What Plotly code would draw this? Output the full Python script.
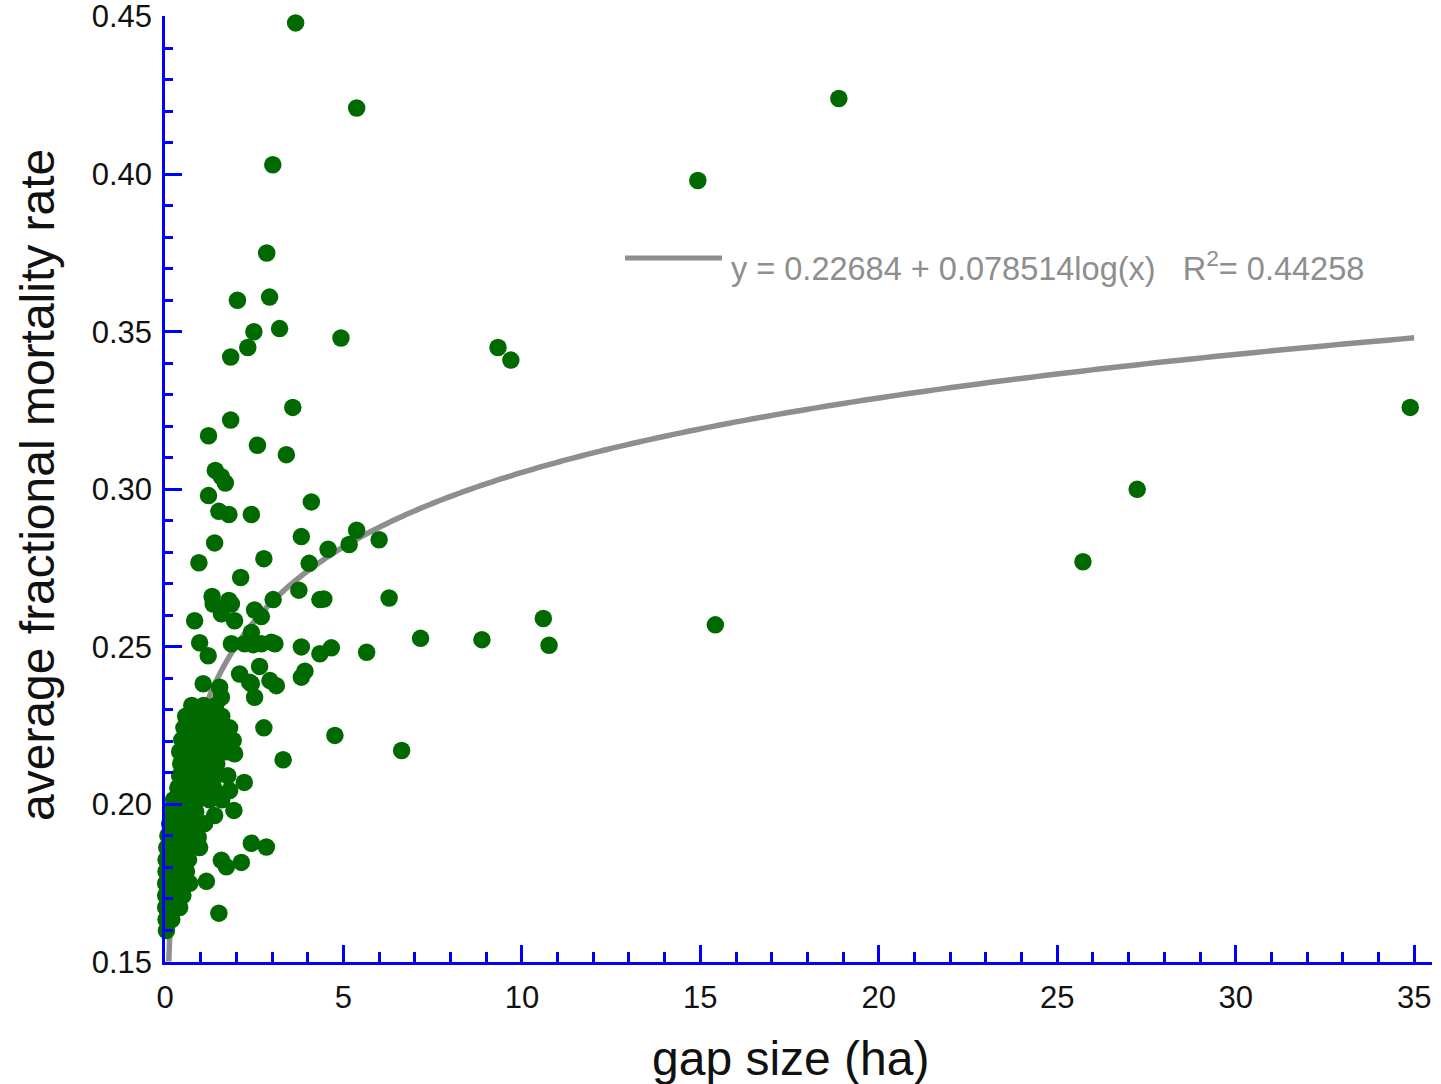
import numpy as np
import plotly.graph_objects as go

# ---------------- data ----------------
# scattered (individually readable) points: gap size (ha), mortality rate
gap_scatter = [3.66, 5.37, 18.88, 3.02, 14.93, 2.85, 2.93, 2.03, 3.21, 2.49, 4.93, 2.32, 1.84,
               9.33, 9.69, 34.89, 3.58, 1.84, 1.22, 2.59, 3.40, 1.41, 1.58, 1.69, 1.22, 27.24,
               4.10, 1.51, 1.79, 2.42, 1.39, 3.82, 5.37, 5.16, 6.00, 4.57, 2.77, 4.04, 0.95,
               2.12, 25.72, 3.75, 3.03, 6.28, 4.34, 4.45, 1.32, 1.79, 1.35, 1.86, 2.51, 2.70,
               0.83, 1.58, 1.95, 10.60, 15.42, 7.16, 8.88, 10.76, 2.42, 0.97, 1.86, 2.23, 2.47,
               2.70, 2.98, 3.08, 3.82, 1.21, 4.34, 4.66, 5.65, 2.65, 3.92, 3.82, 2.09, 2.37,
               2.94, 3.12, 2.42, 2.51, 1.07, 1.53, 1.58, 2.77, 4.76, 6.63, 3.31, 1.91, 1.95,
               2.22, 1.93, 1.39, 2.42, 2.84, 1.58, 1.72, 2.14, 1.16, 0.69, 0.93, 1.51, 0.04,
               1.81, 1.86, 1.81, 1.53]
rate_scatter = [0.448, 0.421, 0.424, 0.403, 0.398, 0.375, 0.361, 0.360, 0.351, 0.350, 0.348, 0.345, 0.342,
                0.345, 0.341, 0.326, 0.326, 0.322, 0.317, 0.314, 0.311, 0.306, 0.304, 0.302, 0.298, 0.300,
                0.296, 0.293, 0.292, 0.292, 0.283, 0.285, 0.287, 0.2825, 0.284, 0.281, 0.278, 0.2765, 0.2767,
                0.272, 0.277, 0.268, 0.265, 0.2655, 0.265, 0.2652, 0.266, 0.2647, 0.2636, 0.2636, 0.2617, 0.2596,
                0.2583, 0.2605, 0.2583, 0.259, 0.257, 0.2527, 0.2523, 0.2505, 0.2546, 0.2513, 0.251, 0.251, 0.2507,
                0.251, 0.2515, 0.251, 0.250, 0.2472, 0.2478, 0.2497, 0.2483, 0.2438, 0.2423, 0.2404, 0.2414, 0.2388,
                0.2393, 0.2377, 0.2383, 0.234, 0.2383, 0.2372, 0.234, 0.2243, 0.2219, 0.2171, 0.2142, 0.2203, 0.2161,
                0.207, 0.1981, 0.1965, 0.1877, 0.1865, 0.1823, 0.1802, 0.1816, 0.1756, 0.175, 0.1896, 0.1655, 0.160,
                0.2203, 0.2166, 0.2044, 0.2023]

# dense cluster of small gaps
gap_cluster = [0.75, 1.08, 1.42,
               0.58, 0.92, 1.25, 1.59,
               0.53, 0.86, 1.20, 1.53, 1.81,
               0.47, 0.80, 1.14, 1.48,
               0.41, 0.75, 1.08, 1.42, 1.70,
               0.44, 0.78, 1.11, 1.45,
               0.41, 0.75, 1.08, 1.42, 1.76,
               0.36, 0.69, 1.03, 1.36,
               0.24, 0.58, 0.92, 1.25, 1.59,
               0.19, 0.52, 0.86,
               0.13, 0.47, 0.80, 1.11,
               0.08, 0.41, 0.75,
               0.05, 0.36, 0.69, 0.97,
               0.03, 0.33, 0.66,
               0.03, 0.30, 0.60,
               0.02, 0.27, 0.58,
               0.02, 0.24, 0.50,
               0.02, 0.22, 0.41,
               0.03, 0.19]
rate_cluster = [0.2314, 0.2314, 0.2314,
                0.228, 0.228, 0.228, 0.228,
                0.2243, 0.2243, 0.2243, 0.2243, 0.2243,
                0.2205, 0.2205, 0.2205, 0.2205,
                0.2167, 0.2167, 0.2167, 0.2167, 0.2167,
                0.2129, 0.2129, 0.2129, 0.2129,
                0.2091, 0.2091, 0.2091, 0.2091, 0.2091,
                0.2053, 0.2053, 0.2053, 0.2053,
                0.2015, 0.2015, 0.2015, 0.2015, 0.2015,
                0.1977, 0.1977, 0.1977,
                0.1939, 0.1939, 0.1939, 0.1939,
                0.1901, 0.1901, 0.1901,
                0.1863, 0.1863, 0.1863, 0.1863,
                0.1825, 0.1825, 0.1825,
                0.1787, 0.1787, 0.1787,
                0.1749, 0.1749, 0.1749,
                0.1711, 0.1711, 0.1711,
                0.1673, 0.1673, 0.1673,
                0.1635, 0.1635]

# fitted curve as printed on the chart: y = a + b*log10(x)
fit_a = 0.22684
fit_b = 0.078514
fit_r2 = 0.44258
fit_x_min, fit_x_max = 0.1055, 35.0

x_ticks = [0, 5, 10, 15, 20, 25, 30, 35]
y_ticks = [0.15, 0.20, 0.25, 0.30, 0.35, 0.40, 0.45]

# ---------------- figure ----------------
W, H = 1441, 1084
ML, MR, MT, MB = 165, 9, 16, 122
PW, PH = W - ML - MR, H - MT - MB

def px(xp):  # pixel -> paper x
    return (xp - ML) / PW

def py(yp):  # pixel -> paper y
    return (H - MB - yp) / PH

gap = gap_scatter + gap_cluster
rate = rate_scatter + rate_cluster

fit_x = np.geomspace(fit_x_min, fit_x_max, 600)
fit_y = fit_a + fit_b * np.log10(fit_x)

GREEN = "#006a00"
GRAY = "#8e8e8e"
BLUE = "#0000ff"
FONT = "Liberation Sans, Arial, sans-serif"

fig = go.Figure()
fig.add_trace(go.Scatter(x=fit_x, y=fit_y, mode="lines",
                         line=dict(color=GRAY, width=5.5, simplify=False), hoverinfo="skip",
                         showlegend=False, cliponaxis=True))
fig.add_trace(go.Scatter(x=gap, y=rate, mode="markers",
                         marker=dict(color=GREEN, size=17.5, line=dict(width=0)),
                         showlegend=False, cliponaxis=False))

axis_common = dict(showgrid=False, zeroline=False, showline=True, linecolor=BLUE,
                   linewidth=2.5, ticks="inside", tickcolor=BLUE, tickwidth=2.5, ticklen=17,
                   tickfont=dict(family=FONT, size=31, color="#111111"), mirror=False,
                   ticklabeloverflow="allow", automargin=False)

fig.update_xaxes(range=[0, 35.5], tickvals=x_ticks, ticktext=[str(v) for v in x_ticks],
                 minor=dict(ticks="inside", dtick=1, tick0=0, ticklen=10, tickcolor=BLUE, tickwidth=2.5),
                 ticklabelstandoff=6, **axis_common)
fig.update_yaxes(range=[0.1500, 0.4502], tickvals=y_ticks, ticktext=[f"{v:.2f}" for v in y_ticks],
                 minor=dict(ticks="inside", dtick=0.01, tick0=0.15, ticklen=8, tickcolor=BLUE, tickwidth=2.5),
                 ticklabelstandoff=4, **axis_common)

eq_text = ("y = %.5f + %.6flog(x)\u00a0\u00a0\u00a0R<sup>2</sup>= %.5f" % (fit_a, fit_b, fit_r2))

fig.update_layout(
    width=W, height=H,
    margin=dict(l=ML, r=MR, t=MT, b=MB, pad=0, autoexpand=False),
    paper_bgcolor="white", plot_bgcolor="white",
    font=dict(family=FONT),
    shapes=[dict(type="line", xref="paper", yref="paper",
                 x0=px(625), x1=px(722), y0=py(258), y1=py(258),
                 line=dict(color=GRAY, width=5))],
    annotations=[
        dict(text=eq_text, xref="paper", yref="paper", x=px(729), y=py(266),
             xanchor="left", yanchor="middle", showarrow=False,
             font=dict(family=FONT, size=32.5, color=GRAY)),
        dict(text="gap size (ha)", xref="paper", yref="paper", x=px(790), y=py(1058),
             xanchor="center", yanchor="middle", showarrow=False,
             font=dict(family=FONT, size=48, color="#111111")),
        dict(text="average fractional mortality rate", xref="paper", yref="paper",
             x=px(38), y=py(485), textangle=-90,
             xanchor="center", yanchor="middle", showarrow=False,
             font=dict(family=FONT, size=48, color="#111111")),
    ],
)

fig.write_html("out.html", config={"displayModeBar": False},
               post_script="document.body.style.margin='0px';")
